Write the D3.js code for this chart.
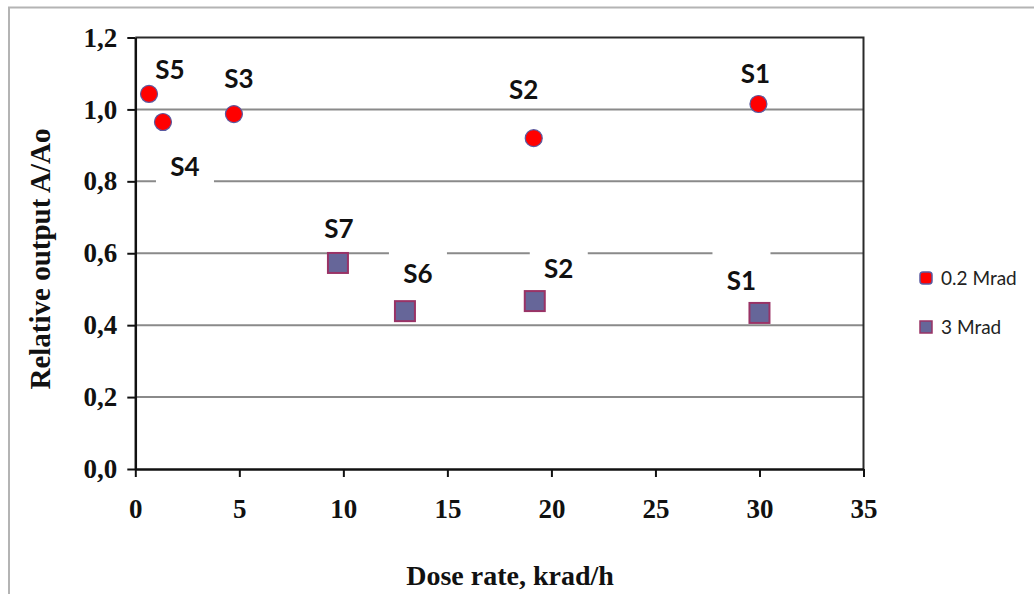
<!DOCTYPE html>
<html>
<head>
<meta charset="utf-8">
<script src="https://cdn.jsdelivr.net/npm/d3@7"></script>
<style>
  html, body { margin: 0; padding: 0; background: #fff; }
  svg { display: block; }
</style>
</head>
<body>
<svg id="chart" width="1034" height="594"></svg>
<script>
// Relative output vs dose rate for two total doses
const lowDoseNames  = ["S5", "S4", "S3", "S2", "S1"];
const lowDoseRate   = [0.66, 1.33, 4.74, 19.15, 29.95];
const lowDoseOutput = [1.043, 0.965, 0.987, 0.920, 1.015];

const highDoseNames  = ["S7", "S6", "S2", "S1"];
const highDoseRate   = [9.74, 12.96, 19.2, 30.0];
const highDoseOutput = [0.573, 0.439, 0.467, 0.434];

const seriesNames = ["0.2 Mrad", "3 Mrad"];
const xTicks = [0, 5, 10, 15, 20, 25, 30, 35];
const yTicks = [0, 0.2, 0.4, 0.6, 0.8, 1.0, 1.2];

// Label placement relative to each marker (px)
const lowLabelShift  = [[21, -24], [22, 45], [5, -35], [-10, -49], [-3, -30]];
const highLabelShift = [[1, -34], [13, -38], [24, -32], [-18, -32]];

const svg = d3.select("#chart");
const plot = { left: 135.3, right: 863.5, top: 37.5, bottom: 469 };

const x = d3.scaleLinear().domain([0, 35]).range([plot.left, plot.right]);
const y = d3.scaleLinear().domain([0, 1.2]).range([plot.bottom, plot.top]);

// Outer chart frame
svg.append("path")
  .attr("d", `M9,594 L9,7.5 L1034,7.5`)
  .attr("fill", "none").attr("stroke", "#b4b4b4").attr("stroke-width", 2);

// Horizontal gridlines
svg.append("g")
  .selectAll("line")
  .data(yTicks.filter(d => d > 0 && d < 1.2))
  .join("line")
  .attr("x1", plot.left).attr("x2", plot.right)
  .attr("y1", d => y(d)).attr("y2", d => y(d))
  .attr("stroke", "#8a8a8a").attr("stroke-width", 2);

// Plot area frame (top and right)
svg.append("path")
  .attr("d", `M${plot.left},${plot.top} L${plot.right},${plot.top} L${plot.right},${plot.bottom}`)
  .attr("fill", "none").attr("stroke", "#2a2a2a").attr("stroke-width", 2);

const fmtComma = d => d3.format(".1f")(d).replace(".", ",");

// Y axis
const yAxis = svg.append("g")
  .attr("transform", `translate(${plot.left},0)`)
  .call(d3.axisLeft(y).tickValues(yTicks).tickFormat(fmtComma).tickSize(8).tickPadding(10).tickSizeOuter(0));
yAxis.select(".domain").attr("stroke", "#111").attr("stroke-width", 2.5);
yAxis.selectAll(".tick line").attr("stroke", "#111").attr("stroke-width", 2);
yAxis.selectAll(".tick text")
  .attr("font-family", "'Liberation Serif', 'Times New Roman', serif")
  .attr("font-weight", "bold").attr("font-size", 27).attr("fill", "#111");

// X axis
const xAxis = svg.append("g")
  .attr("transform", `translate(0,${plot.bottom})`)
  .call(d3.axisBottom(x).tickValues(xTicks).tickFormat(d3.format("d")).tickSize(8).tickPadding(22).tickSizeOuter(0));
xAxis.select(".domain").attr("stroke", "#111").attr("stroke-width", 2.5);
xAxis.selectAll(".tick line").attr("stroke", "#111").attr("stroke-width", 2);
xAxis.selectAll(".tick text")
  .attr("font-family", "'Liberation Serif', 'Times New Roman', serif")
  .attr("font-weight", "bold").attr("font-size", 27).attr("fill", "#111");

// Axis titles
svg.append("text")
  .attr("x", 510).attr("y", 585)
  .attr("text-anchor", "middle")
  .attr("font-family", "'Liberation Serif', 'Times New Roman', serif")
  .attr("font-weight", "bold").attr("font-size", 28).attr("fill", "#111")
  .text("Dose rate, krad/h");

svg.append("text")
  .attr("transform", "translate(50,259) rotate(-90)")
  .attr("text-anchor", "middle")
  .attr("font-family", "'Liberation Serif', 'Times New Roman', serif")
  .attr("font-weight", "bold").attr("font-size", 29).attr("fill", "#111")
  .text("Relative output A/Ao");

const lowPts = lowDoseNames.map((n, i) => ({
  name: n, x: lowDoseRate[i], y: lowDoseOutput[i], shift: lowLabelShift[i]
}));
const highPts = highDoseNames.map((n, i) => ({
  name: n, x: highDoseRate[i], y: highDoseOutput[i], shift: highLabelShift[i]
}));
const allPts = lowPts.concat(highPts);

// White label backgrounds (break the gridlines behind the labels)
svg.append("g")
  .selectAll("rect")
  .data(allPts)
  .join("rect")
  .attr("x", d => x(d.x) + d.shift[0] - 29)
  .attr("y", d => y(d.y) + d.shift[1] - 29)
  .attr("width", 58).attr("height", 46)
  .attr("fill", "#fff");

// 0.2 Mrad markers: red circles
svg.append("g")
  .selectAll("circle")
  .data(lowPts)
  .join("circle")
  .attr("cx", d => x(d.x)).attr("cy", d => y(d.y))
  .attr("r", 8.5)
  .attr("fill", "#ff0000").attr("stroke", "#5a5aa0").attr("stroke-width", 1.2);

// 3 Mrad markers: slate squares
svg.append("g")
  .selectAll("rect")
  .data(highPts)
  .join("rect")
  .attr("x", d => x(d.x) - 10).attr("y", d => y(d.y) - 10)
  .attr("width", 20).attr("height", 20)
  .attr("fill", "#666699").attr("stroke", "#993366").attr("stroke-width", 2);

// Sample labels
svg.append("g")
  .selectAll("text")
  .data(allPts)
  .join("text")
  .attr("x", d => x(d.x) + d.shift[0])
  .attr("y", d => y(d.y) + d.shift[1])
  .attr("dy", "0.36em")
  .attr("text-anchor", "middle")
  .attr("font-family", "Lato, 'Open Sans', sans-serif")
  .attr("font-weight", "bold").attr("font-size", 26).attr("fill", "#111")
  .text(d => d.name);

// Legend
const legend = svg.append("g");
const legendRows = [
  { label: seriesNames[0], cy: 278, kind: "circle" },
  { label: seriesNames[1], cy: 327, kind: "square" }
];
legendRows.forEach(r => {
  if (r.kind === "circle") {
    legend.append("rect")
      .attr("x", 920).attr("y", r.cy - 6).attr("width", 12).attr("height", 12).attr("rx", 3)
      .attr("fill", "#ff0000").attr("stroke", "#5a5aa0").attr("stroke-width", 1.5);
  } else {
    legend.append("rect")
      .attr("x", 920).attr("y", r.cy - 6).attr("width", 12).attr("height", 12)
      .attr("fill", "#666699").attr("stroke", "#993366").attr("stroke-width", 1.5);
  }
  legend.append("text")
    .attr("x", 941).attr("y", r.cy)
    .attr("dy", "0.36em")
    .attr("font-family", "Lato, 'Open Sans', sans-serif")
    .attr("font-size", 19).attr("fill", "#222")
    .text(r.label);
});
</script>
</body>
</html>
